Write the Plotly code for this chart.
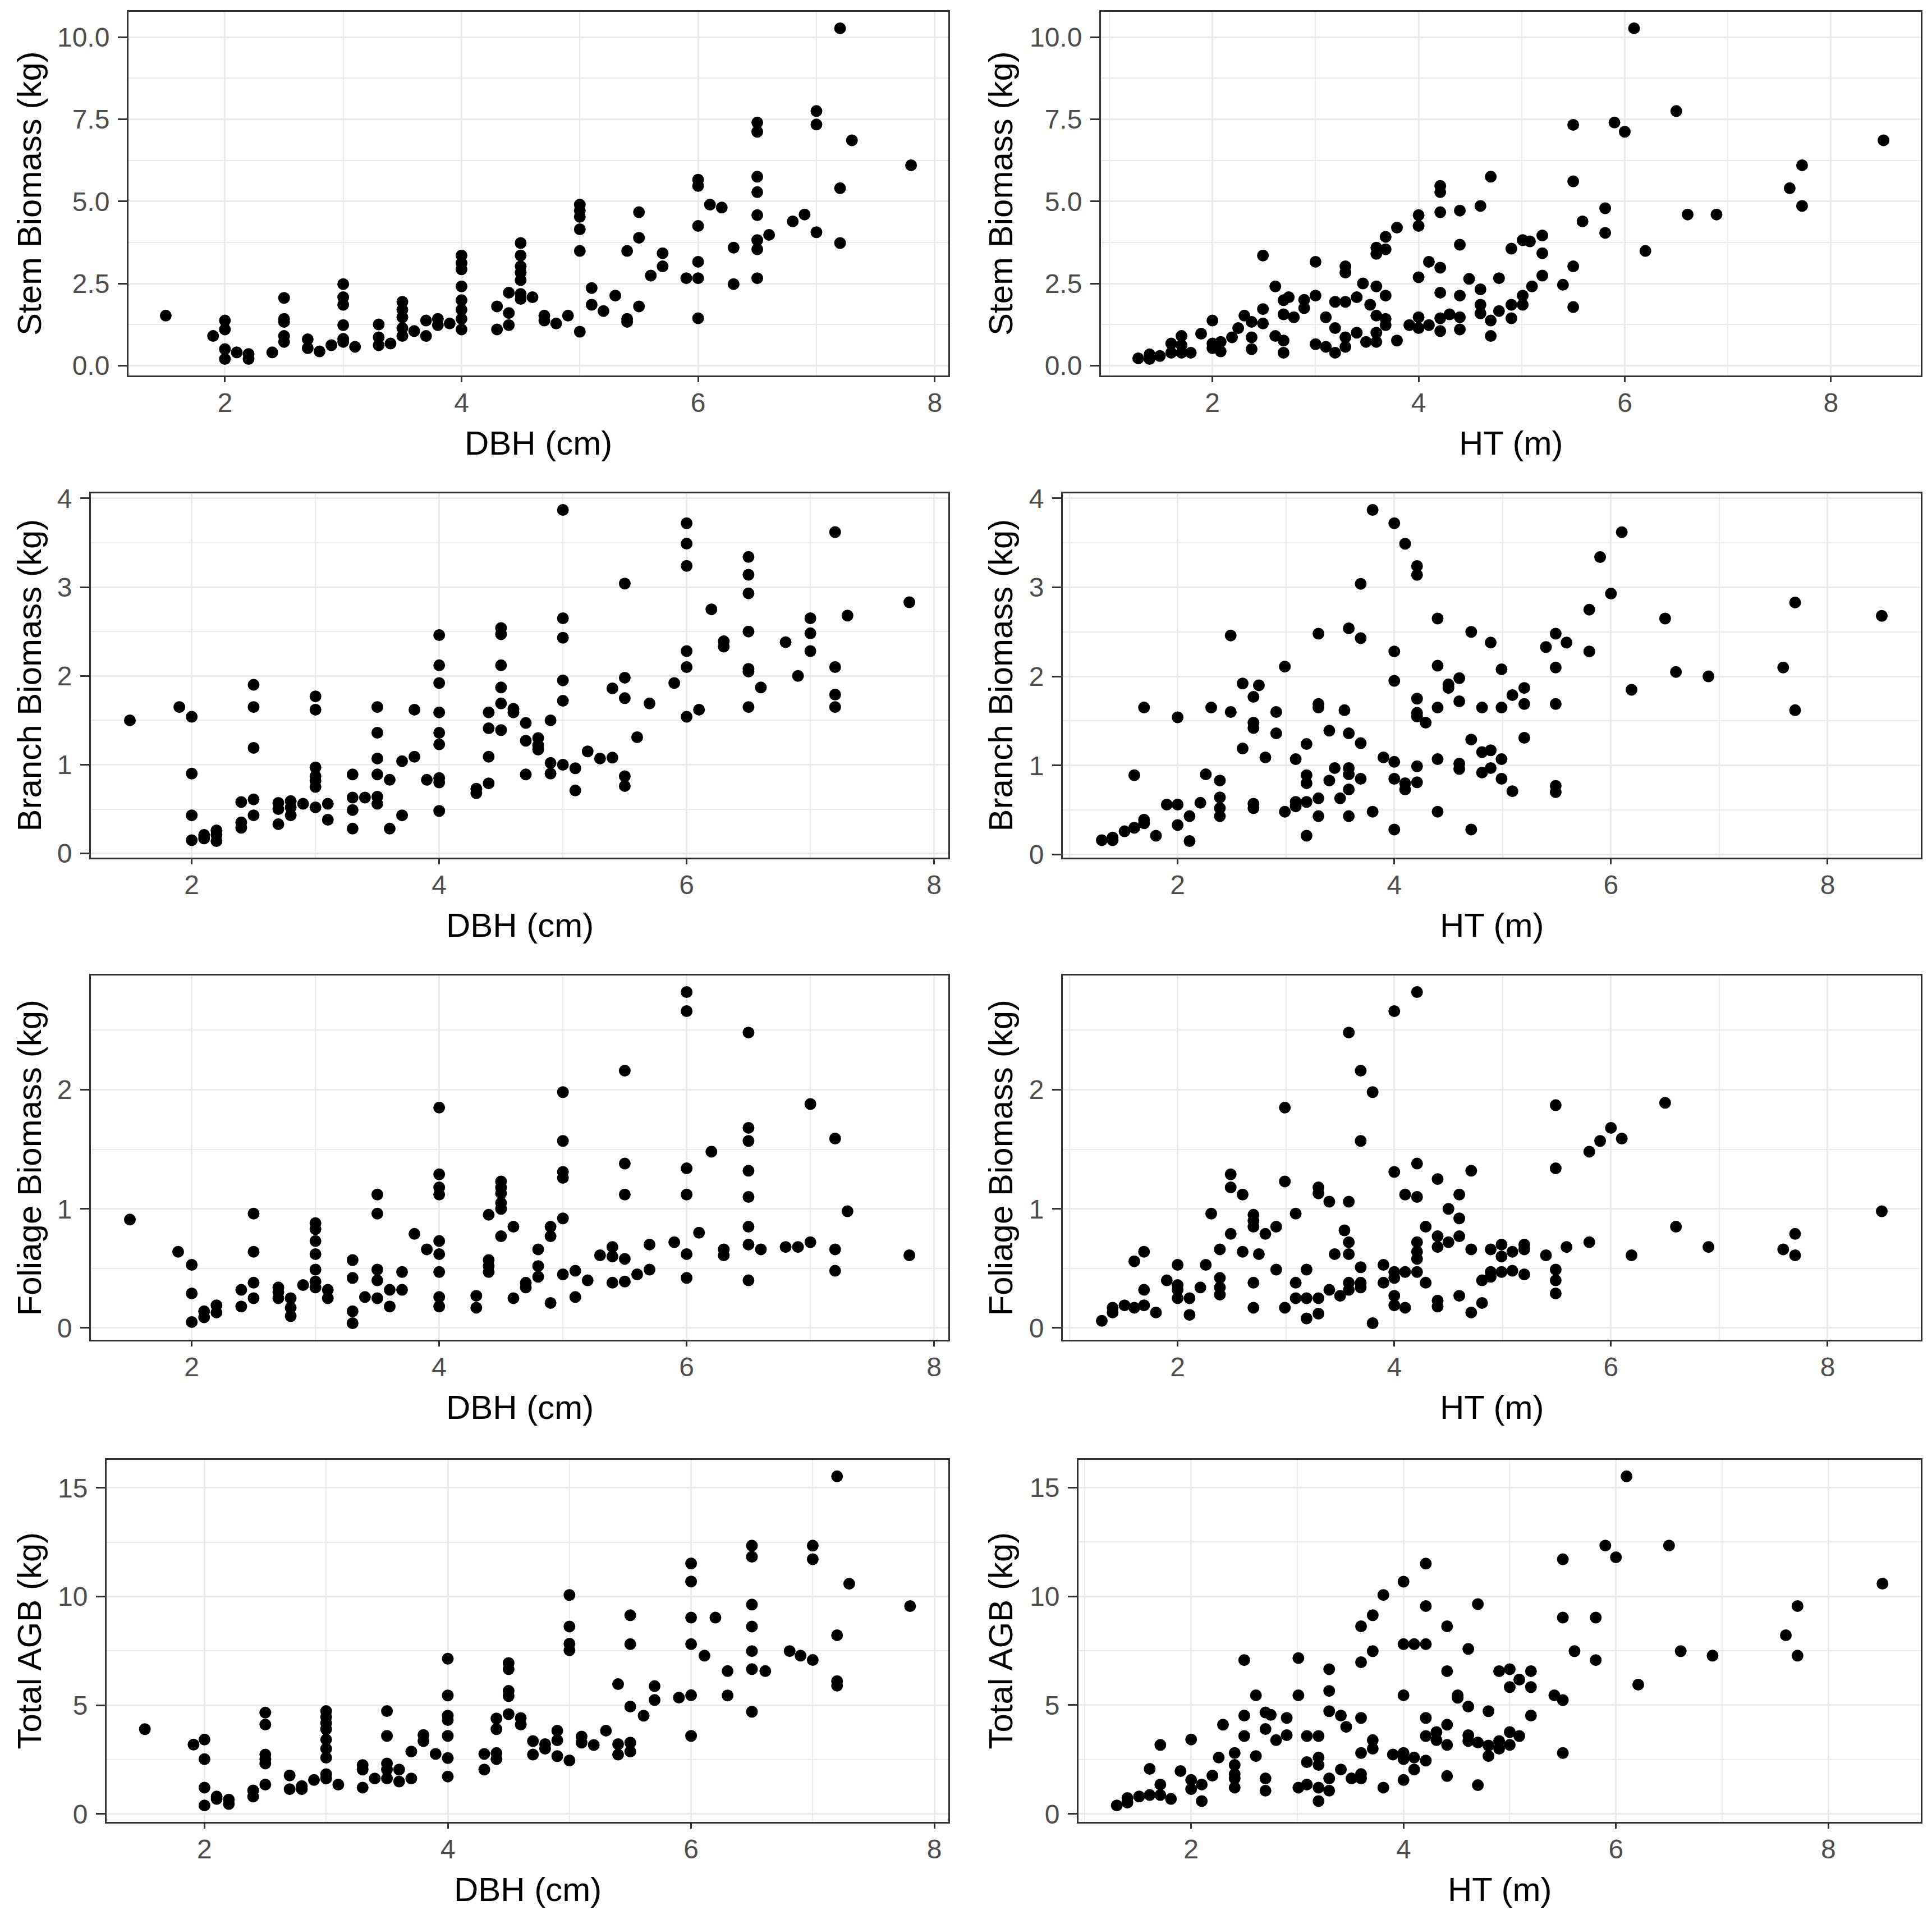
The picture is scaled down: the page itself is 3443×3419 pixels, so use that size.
import numpy as np
import plotly.graph_objects as go
from plotly.subplots import make_subplots

# points, (x, y) per panel
stem_dbh = [(1.5, 1.52), (1.9, 0.9), (2.0, 1.37), (2.0, 1.1), (2.0, 0.5), (2.0, 0.2), (2.1, 0.4), (2.2, 0.35),
            (2.2, 0.2), (2.4, 0.4), (2.5, 2.06), (2.5, 1.42), (2.5, 1.33), (2.5, 0.9), (2.5, 0.72), (2.7, 0.8),
            (2.7, 0.53), (2.8, 0.43), (2.9, 0.62), (3.0, 2.48), (3.0, 2.08), (3.0, 1.85), (3.0, 1.23), (3.0, 0.81),
            (3.0, 0.72), (3.1, 0.57), (3.3, 1.25), (3.3, 0.86), (3.3, 0.62), (3.4, 0.67), (3.5, 1.94), (3.5, 1.7),
            (3.5, 1.47), (3.5, 1.14), (3.5, 0.9), (3.6, 1.05), (3.7, 1.37), (3.7, 0.9), (3.8, 1.42), (3.8, 1.23),
            (3.9, 1.28), (4.0, 3.35), (4.0, 3.12), (4.0, 2.93), (4.0, 2.41), (4.0, 1.99), (4.0, 1.7), (4.0, 1.42),
            (4.0, 1.1), (4.3, 1.8), (4.3, 1.1), (4.4, 2.22), (4.4, 1.6), (4.4, 1.23), (4.5, 3.73), (4.5, 3.35),
            (4.5, 3.02), (4.5, 2.83), (4.5, 2.6), (4.5, 2.18), (4.5, 2.03), (4.6, 2.08), (4.7, 1.52), (4.7, 1.37),
            (4.8, 1.28), (4.9, 1.52), (5.0, 4.9), (5.0, 4.72), (5.0, 4.53), (5.0, 4.15), (5.0, 3.49), (5.0, 1.03),
            (5.1, 2.36), (5.1, 1.85), (5.2, 1.66), (5.3, 2.13), (5.4, 3.49), (5.4, 1.42), (5.4, 1.33), (5.5, 4.67),
            (5.5, 3.89), (5.5, 1.8), (5.6, 2.74), (5.7, 3.42), (5.7, 3.02), (5.9, 2.66), (6.0, 5.66), (6.0, 5.47),
            (6.0, 4.25), (6.0, 3.16), (6.0, 2.66), (6.0, 1.44), (6.1, 4.9), (6.2, 4.81), (6.3, 3.59), (6.3, 2.48),
            (6.5, 7.4), (6.5, 7.12), (6.5, 5.75), (6.5, 5.28), (6.5, 4.58), (6.5, 3.82), (6.5, 3.54), (6.5, 2.66),
            (6.6, 3.98), (6.8, 4.39), (6.9, 4.6), (7.0, 7.75), (7.0, 7.34), (7.0, 4.06), (7.2, 10.27), (7.2, 5.4),
            (7.2, 3.73), (7.3, 6.86), (7.8, 6.1)]

stem_ht = [(1.28, 0.22), (1.39, 0.34), (1.39, 0.2), (1.49, 0.29), (1.6, 0.67), (1.6, 0.39), (1.7, 0.9), (1.7, 0.62),
           (1.7, 0.39), (1.79, 0.39), (1.89, 0.97), (2.0, 1.37), (2.0, 0.67), (2.0, 0.53), (2.08, 0.72), (2.08, 0.43),
           (2.19, 0.86), (2.25, 1.14), (2.31, 1.52), (2.38, 1.33), (2.38, 0.86), (2.38, 0.5), (2.49, 3.35),
           (2.49, 1.72), (2.49, 1.28), (2.61, 2.41), (2.61, 0.9), (2.69, 1.99), (2.69, 1.56), (2.69, 0.76),
           (2.69, 0.39), (2.74, 2.08), (2.79, 1.47), (2.89, 2.0), (2.89, 1.75), (3.0, 3.16), (3.0, 2.13), (3.0, 0.65),
           (3.1, 1.47), (3.1, 0.57), (3.19, 1.94), (3.19, 1.14), (3.19, 0.39), (3.29, 3.02), (3.29, 2.83),
           (3.29, 1.94), (3.29, 0.86), (3.29, 0.57), (3.4, 2.08), (3.4, 1.0), (3.46, 2.5), (3.49, 0.72), (3.53, 1.85),
           (3.59, 3.59), (3.59, 3.4), (3.59, 2.41), (3.59, 1.52), (3.59, 1.0), (3.59, 0.72), (3.68, 3.54),
           (3.68, 3.92), (3.68, 2.13), (3.68, 1.42), (3.68, 1.23), (3.79, 4.2), (3.79, 0.76), (3.91, 1.23),
           (4.0, 4.58), (4.0, 4.25), (4.0, 2.69), (4.0, 1.47), (4.0, 1.14), (4.1, 3.16), (4.1, 1.23), (4.21, 5.47),
           (4.21, 5.28), (4.21, 4.67), (4.21, 2.98), (4.21, 2.22), (4.21, 1.44), (4.21, 1.05), (4.3, 1.56),
           (4.4, 4.72), (4.4, 3.68), (4.4, 2.13), (4.4, 1.47), (4.4, 1.1), (4.49, 2.64), (4.6, 4.86), (4.6, 2.32),
           (4.6, 1.85), (4.6, 1.59), (4.7, 5.75), (4.7, 1.37), (4.7, 0.9), (4.78, 2.66), (4.78, 1.66), (4.9, 3.56),
           (4.9, 1.85), (4.9, 1.44), (5.01, 3.82), (5.01, 2.13), (5.01, 1.85), (5.08, 3.78), (5.1, 2.41), (5.2, 3.96),
           (5.2, 3.42), (5.2, 2.74), (5.4, 2.46), (5.5, 7.33), (5.5, 5.61), (5.5, 3.02), (5.5, 1.78), (5.59, 4.39),
           (5.81, 4.79), (5.81, 4.04), (5.9, 7.4), (6.0, 7.12), (6.09, 10.27), (6.2, 3.49), (6.5, 7.75), (6.61, 4.6),
           (6.89, 4.6), (7.6, 5.4), (7.72, 6.1), (7.72, 4.86), (8.51, 6.86)]

branch_dbh = [(1.5, 1.5), (1.9, 1.65), (2.0, 1.54), (2.0, 0.9), (2.0, 0.43), (2.0, 0.15), (2.1, 0.17), (2.1, 0.21),
              (2.2, 0.14), (2.2, 0.21), (2.2, 0.26), (2.4, 0.29), (2.4, 0.35), (2.4, 0.58), (2.5, 1.9), (2.5, 1.65),
              (2.5, 1.19), (2.5, 0.61), (2.5, 0.43), (2.7, 0.33), (2.7, 0.57), (2.7, 0.5), (2.8, 0.59), (2.8, 0.43),
              (2.8, 0.52), (2.9, 0.56), (3.0, 1.77), (3.0, 1.62), (3.0, 0.97), (3.0, 0.87), (3.0, 0.82), (3.0, 0.75),
              (3.0, 0.52), (3.1, 0.56), (3.1, 0.38), (3.3, 0.89), (3.3, 0.63), (3.3, 0.49), (3.3, 0.28), (3.4, 0.63),
              (3.5, 1.65), (3.5, 1.36), (3.5, 1.07), (3.5, 0.89), (3.5, 0.64), (3.5, 0.56), (3.6, 0.83), (3.6, 0.28),
              (3.7, 1.04), (3.7, 0.43), (3.8, 1.62), (3.8, 1.09), (3.9, 0.83), (4.0, 2.46), (4.0, 2.12), (4.0, 1.92),
              (4.0, 1.59), (4.0, 1.36), (4.0, 1.23), (4.0, 0.85), (4.0, 0.8), (4.0, 0.48), (4.3, 0.73), (4.3, 0.68),
              (4.4, 1.59), (4.4, 1.41), (4.4, 1.09), (4.4, 0.79), (4.5, 2.54), (4.5, 2.47), (4.5, 2.12), (4.5, 1.87),
              (4.5, 1.69), (4.5, 1.39), (4.6, 1.63), (4.6, 1.59), (4.7, 1.47), (4.7, 1.27), (4.7, 0.89), (4.8, 1.3),
              (4.8, 1.22), (4.8, 1.17), (4.9, 1.5), (4.9, 1.02), (4.9, 0.9), (5.0, 3.87), (5.0, 2.65), (5.0, 2.43),
              (5.0, 1.95), (5.0, 1.72), (5.0, 1.0), (5.1, 0.96), (5.1, 0.71), (5.2, 1.15), (5.3, 1.07), (5.4, 1.86),
              (5.4, 1.08), (5.5, 3.04), (5.5, 1.98), (5.5, 1.75), (5.5, 0.87), (5.5, 0.76), (5.6, 1.31), (5.7, 1.69),
              (5.9, 1.92), (6.0, 3.72), (6.0, 3.49), (6.0, 3.24), (6.0, 2.28), (6.0, 2.1), (6.0, 1.54), (6.1, 1.62),
              (6.2, 2.75), (6.3, 2.39), (6.3, 2.33), (6.5, 3.34), (6.5, 3.14), (6.5, 2.93), (6.5, 2.5), (6.5, 2.08),
              (6.5, 2.05), (6.5, 1.65), (6.6, 1.87), (6.8, 2.38), (6.9, 2.0), (7.0, 2.65), (7.0, 2.48), (7.0, 2.28),
              (7.2, 3.62), (7.2, 2.1), (7.2, 1.79), (7.2, 1.65), (7.3, 2.68), (7.8, 2.83)]

branch_ht = [(1.3, 0.16), (1.4, 0.16), (1.4, 0.19), (1.51, 0.26), (1.6, 0.3), (1.6, 0.89), (1.69, 0.35), (1.69, 0.39),
             (1.69, 1.65), (1.8, 0.21), (1.9, 0.56), (2.0, 0.56), (2.0, 0.33), (2.0, 1.54), (2.11, 0.43), (2.11, 0.15),
             (2.21, 0.58), (2.26, 0.9), (2.31, 1.65), (2.39, 0.83), (2.39, 0.64), (2.39, 0.52), (2.39, 0.43),
             (2.49, 2.46), (2.49, 1.6), (2.6, 1.92), (2.6, 1.19), (2.7, 1.77), (2.7, 1.48), (2.7, 1.42), (2.7, 0.57),
             (2.7, 0.52), (2.75, 1.9), (2.81, 1.09), (2.91, 1.6), (2.91, 1.36), (2.99, 2.11), (2.99, 0.48),
             (3.09, 1.07), (3.09, 0.59), (3.09, 0.54), (3.19, 1.24), (3.19, 0.89), (3.19, 0.8), (3.19, 0.59),
             (3.19, 0.21), (3.3, 2.48), (3.3, 1.69), (3.3, 1.65), (3.3, 0.63), (3.3, 0.43), (3.4, 1.39), (3.4, 0.83),
             (3.45, 0.97), (3.5, 0.63), (3.54, 1.62), (3.58, 2.54), (3.58, 1.36), (3.58, 0.97), (3.58, 0.9),
             (3.58, 0.73), (3.58, 0.43), (3.69, 3.04), (3.69, 2.43), (3.69, 1.25), (3.69, 0.85), (3.8, 3.87),
             (3.8, 0.48), (3.9, 1.09), (4.0, 3.72), (4.0, 2.28), (4.0, 1.95), (4.0, 1.04), (4.0, 0.85), (4.0, 0.28),
             (4.1, 3.49), (4.1, 0.8), (4.1, 0.73), (4.21, 3.24), (4.21, 3.14), (4.21, 1.75), (4.21, 1.59),
             (4.21, 1.55), (4.21, 0.99), (4.21, 0.81), (4.29, 1.48), (4.4, 2.65), (4.4, 2.12), (4.4, 1.65),
             (4.4, 1.07), (4.4, 0.48), (4.5, 1.91), (4.5, 1.87), (4.6, 1.98), (4.6, 1.72), (4.6, 1.02), (4.6, 0.96),
             (4.71, 2.5), (4.71, 1.29), (4.71, 0.28), (4.81, 1.65), (4.81, 1.15), (4.81, 0.92), (4.89, 2.38),
             (4.89, 1.17), (4.89, 0.97), (4.99, 2.08), (4.99, 1.65), (4.99, 1.07), (4.99, 0.85), (5.09, 1.79),
             (5.09, 0.71), (5.2, 1.87), (5.2, 1.69), (5.2, 1.31), (5.4, 2.33), (5.49, 2.48), (5.49, 2.1), (5.49, 1.69),
             (5.49, 0.77), (5.49, 0.7), (5.59, 2.38), (5.8, 2.75), (5.8, 2.28), (5.9, 3.34), (6.0, 2.93), (6.1, 3.62),
             (6.19, 1.85), (6.5, 2.65), (6.6, 2.05), (6.9, 2.0), (7.59, 2.1), (7.7, 2.83), (7.7, 1.62), (8.5, 2.68)]

foliage_dbh = [(1.5, 0.91), (1.89, 0.64), (2.0, 0.53), (2.0, 0.29), (2.0, 0.05), (2.1, 0.09), (2.1, 0.14), (2.2, 0.13),
               (2.2, 0.19), (2.4, 0.18), (2.4, 0.32), (2.5, 0.96), (2.5, 0.64), (2.5, 0.38), (2.5, 0.25), (2.7, 0.34),
               (2.7, 0.3), (2.7, 0.25), (2.8, 0.25), (2.8, 0.17), (2.8, 0.1), (2.9, 0.36), (3.0, 0.88), (3.0, 0.83),
               (3.0, 0.73), (3.0, 0.62), (3.0, 0.49), (3.0, 0.39), (3.0, 0.34), (3.1, 0.32), (3.1, 0.25), (3.3, 0.57),
               (3.3, 0.42), (3.3, 0.14), (3.3, 0.04), (3.4, 0.26), (3.5, 1.12), (3.5, 0.96), (3.5, 0.49), (3.5, 0.4),
               (3.5, 0.25), (3.6, 0.32), (3.6, 0.18), (3.7, 0.47), (3.7, 0.32), (3.8, 0.79), (3.9, 0.66), (4.0, 1.85),
               (4.0, 1.29), (4.0, 1.18), (4.0, 1.12), (4.0, 0.73), (4.0, 0.62), (4.0, 0.47), (4.0, 0.26), (4.0, 0.18),
               (4.3, 0.27), (4.3, 0.17), (4.4, 0.95), (4.4, 0.57), (4.4, 0.52), (4.4, 0.47), (4.5, 1.23), (4.5, 1.18),
               (4.5, 1.13), (4.5, 1.05), (4.5, 1.0), (4.5, 0.77), (4.6, 0.85), (4.6, 0.25), (4.7, 0.38), (4.7, 0.34),
               (4.8, 0.66), (4.8, 0.52), (4.8, 0.43), (4.9, 0.85), (4.9, 0.77), (4.9, 0.21), (5.0, 1.98), (5.0, 1.57),
               (5.0, 1.31), (5.0, 1.26), (5.0, 0.92), (5.0, 0.45), (5.1, 0.48), (5.1, 0.26), (5.2, 0.4), (5.3, 0.61),
               (5.4, 0.68), (5.4, 0.6), (5.4, 0.38), (5.5, 2.16), (5.5, 1.38), (5.5, 1.12), (5.5, 0.58), (5.5, 0.39),
               (5.6, 0.45), (5.7, 0.7), (5.7, 0.49), (5.9, 0.72), (6.0, 2.82), (6.0, 2.66), (6.0, 1.34), (6.0, 1.12),
               (6.0, 0.62), (6.0, 0.42), (6.1, 0.8), (6.2, 1.48), (6.3, 0.66), (6.3, 0.61), (6.5, 2.48), (6.5, 1.68),
               (6.5, 1.57), (6.5, 1.32), (6.5, 1.1), (6.5, 0.85), (6.5, 0.7), (6.5, 0.4), (6.6, 0.66), (6.8, 0.68),
               (6.9, 0.68), (7.0, 1.88), (7.0, 0.72), (7.2, 1.59), (7.2, 0.66), (7.2, 0.48), (7.3, 0.98), (7.8, 0.61)]

foliage_ht = [(1.3, 0.06), (1.4, 0.13), (1.4, 0.17), (1.51, 0.19), (1.6, 0.56), (1.6, 0.17), (1.69, 0.64), (1.69, 0.32),
              (1.69, 0.19), (1.8, 0.13), (1.9, 0.4), (2.0, 0.53), (2.0, 0.36), (2.0, 0.32), (2.0, 0.25), (2.11, 0.25),
              (2.11, 0.11), (2.21, 0.34), (2.26, 0.53), (2.31, 0.96), (2.39, 0.66), (2.39, 0.42), (2.39, 0.34),
              (2.39, 0.28), (2.49, 1.29), (2.49, 1.18), (2.49, 0.79), (2.6, 1.12), (2.6, 0.64), (2.7, 0.95), (2.7, 0.9),
              (2.7, 0.85), (2.7, 0.38), (2.7, 0.17), (2.75, 0.62), (2.81, 0.79), (2.91, 0.85), (2.91, 0.49),
              (2.99, 1.85), (2.99, 1.23), (2.99, 0.17), (3.09, 0.96), (3.09, 0.38), (3.09, 0.25), (3.19, 0.49),
              (3.19, 0.25), (3.19, 0.08), (3.3, 1.18), (3.3, 1.13), (3.3, 0.25), (3.3, 0.12), (3.4, 1.06), (3.4, 0.32),
              (3.45, 0.62), (3.5, 0.27), (3.54, 0.82), (3.58, 2.48), (3.58, 1.06), (3.58, 0.72), (3.58, 0.62),
              (3.58, 0.38), (3.58, 0.32), (3.69, 2.16), (3.69, 1.57), (3.69, 0.51), (3.69, 0.38), (3.69, 0.34),
              (3.8, 1.98), (3.8, 0.04), (3.9, 0.53), (3.9, 0.38), (4.0, 2.66), (4.0, 1.31), (4.0, 0.47), (4.0, 0.42),
              (4.0, 0.27), (4.0, 0.19), (4.1, 1.12), (4.1, 0.47), (4.1, 0.17), (4.21, 2.82), (4.21, 1.38), (4.21, 1.1),
              (4.21, 0.72), (4.21, 0.64), (4.21, 0.58), (4.21, 0.47), (4.29, 0.85), (4.29, 0.38), (4.4, 1.25),
              (4.4, 0.77), (4.4, 0.68), (4.4, 0.23), (4.4, 0.18), (4.5, 1.0), (4.5, 0.72), (4.6, 1.12), (4.6, 0.92),
              (4.6, 0.77), (4.6, 0.27), (4.71, 1.32), (4.71, 0.66), (4.71, 0.13), (4.81, 0.4), (4.81, 0.21),
              (4.89, 0.66), (4.89, 0.47), (4.89, 0.43), (4.99, 0.7), (4.99, 0.6), (4.99, 0.47), (5.09, 0.64),
              (5.09, 0.48), (5.2, 0.7), (5.2, 0.66), (5.2, 0.45), (5.4, 0.61), (5.49, 1.87), (5.49, 1.34), (5.49, 0.49),
              (5.49, 0.4), (5.49, 0.29), (5.59, 0.68), (5.8, 0.72), (5.8, 1.48), (5.9, 1.57), (6.0, 1.68), (6.1, 1.59),
              (6.19, 0.61), (6.5, 1.89), (6.6, 0.85), (6.9, 0.68), (7.59, 0.66), (7.7, 0.79), (7.7, 0.61), (8.5, 0.98)]

total_dbh = [(1.51, 3.9), (1.91, 3.19), (2.0, 3.42), (2.0, 2.52), (2.0, 1.21), (2.0, 0.39), (2.1, 0.69), (2.1, 0.8),
             (2.2, 0.66), (2.2, 0.46), (2.4, 1.08), (2.4, 0.8), (2.5, 4.66), (2.5, 4.11), (2.5, 2.73), (2.5, 2.52),
             (2.5, 2.32), (2.5, 1.35), (2.7, 1.77), (2.7, 1.14), (2.8, 1.14), (2.8, 1.28), (2.9, 1.56), (3.0, 4.73),
             (3.0, 4.46), (3.0, 4.18), (3.0, 3.9), (3.0, 3.42), (3.0, 3.0), (3.0, 2.59), (3.0, 1.83), (3.0, 1.63),
             (3.1, 1.35), (3.3, 2.25), (3.3, 2.04), (3.3, 1.21), (3.4, 1.63), (3.5, 4.73), (3.5, 3.59), (3.5, 2.32),
             (3.5, 2.04), (3.5, 1.63), (3.6, 2.04), (3.6, 1.49), (3.7, 2.87), (3.7, 1.63), (3.8, 3.63), (3.8, 3.35),
             (3.9, 2.76), (4.0, 7.14), (4.0, 5.45), (4.0, 4.52), (4.0, 4.32), (4.0, 3.59), (4.0, 2.57), (4.0, 1.72),
             (4.3, 2.04), (4.3, 2.76), (4.4, 4.39), (4.4, 3.9), (4.4, 2.8), (4.4, 2.52), (4.5, 6.94), (4.5, 6.66),
             (4.5, 5.66), (4.5, 5.42), (4.5, 4.59), (4.6, 4.41), (4.6, 4.11), (4.7, 3.35), (4.7, 2.73), (4.8, 3.0),
             (4.8, 3.21), (4.9, 3.83), (4.9, 3.39), (4.9, 2.66), (5.0, 10.07), (5.0, 8.62), (5.0, 7.83), (5.0, 7.53),
             (5.0, 2.46), (5.1, 3.56), (5.1, 3.28), (5.2, 3.17), (5.3, 3.83), (5.4, 5.97), (5.4, 3.21), (5.4, 2.73),
             (5.5, 9.14), (5.5, 7.81), (5.5, 4.94), (5.5, 3.28), (5.5, 2.87), (5.61, 4.52), (5.7, 5.88), (5.7, 5.24),
             (5.9, 5.35), (6.0, 11.52), (6.0, 10.69), (6.0, 9.03), (6.0, 7.81), (6.0, 5.46), (6.0, 3.59), (6.11, 7.28),
             (6.2, 9.03), (6.3, 6.57), (6.3, 5.45), (6.5, 12.34), (6.5, 11.83), (6.5, 9.63), (6.5, 8.62), (6.5, 7.49),
             (6.5, 6.66), (6.5, 4.7), (6.61, 6.57), (6.81, 7.49), (6.9, 7.28), (7.0, 12.34), (7.0, 11.72), (7.0, 7.08),
             (7.2, 15.53), (7.2, 8.22), (7.2, 6.11), (7.2, 5.9), (7.3, 10.59), (7.8, 9.56)]

total_ht = [(1.3, 0.39), (1.4, 0.52), (1.4, 0.73), (1.51, 0.8), (1.61, 0.87), (1.61, 2.07), (1.71, 3.17), (1.71, 1.35),
            (1.71, 0.87), (1.81, 0.69), (1.9, 1.97), (2.0, 3.42), (2.0, 1.56), (2.0, 1.14), (2.1, 1.35), (2.1, 0.59),
            (2.2, 1.76), (2.26, 2.59), (2.3, 4.1), (2.41, 2.8), (2.41, 2.25), (2.41, 1.83), (2.41, 1.63), (2.41, 1.21),
            (2.5, 7.07), (2.5, 4.52), (2.5, 3.58), (2.61, 5.45), (2.61, 2.66), (2.7, 4.66), (2.7, 3.9), (2.7, 1.63),
            (2.7, 1.07), (2.75, 4.55), (2.8, 3.39), (2.9, 4.41), (2.9, 3.62), (3.01, 7.16), (3.01, 5.45), (3.01, 1.21),
            (3.09, 2.38), (3.09, 1.35), (3.09, 3.58), (3.2, 3.58), (3.2, 2.59), (3.2, 2.25), (3.2, 1.21), (3.2, 0.59),
            (3.3, 6.65), (3.3, 5.65), (3.3, 4.72), (3.3, 1.63), (3.3, 1.07), (3.41, 4.52), (3.41, 2.04), (3.46, 4.0),
            (3.51, 1.63), (3.6, 8.62), (3.6, 6.97), (3.6, 4.41), (3.6, 2.8), (3.6, 1.83), (3.6, 1.63), (3.71, 9.13),
            (3.71, 7.48), (3.71, 3.39), (3.71, 3.0), (3.81, 10.06), (3.81, 1.21), (3.9, 2.73), (4.0, 10.67),
            (4.0, 7.8), (4.0, 5.45), (4.0, 2.8), (4.0, 2.52), (4.0, 1.56), (4.1, 7.8), (4.1, 2.59), (4.1, 2.04),
            (4.21, 11.5), (4.21, 9.55), (4.21, 7.8), (4.21, 4.41), (4.21, 3.58), (4.21, 2.45), (4.31, 3.76),
            (4.31, 3.39), (4.41, 8.62), (4.41, 6.56), (4.41, 4.1), (4.41, 3.17), (4.41, 1.74), (4.51, 5.45),
            (4.51, 5.34), (4.61, 7.58), (4.61, 4.93), (4.61, 3.62), (4.61, 3.35), (4.7, 9.64), (4.7, 3.28),
            (4.7, 1.32), (4.8, 4.72), (4.8, 2.66), (4.8, 3.14), (4.9, 6.56), (4.9, 3.35), (4.9, 3.0), (5.0, 6.65),
            (5.0, 5.83), (5.0, 3.76), (5.0, 3.17), (5.09, 6.17), (5.09, 3.58), (5.2, 6.56), (5.2, 5.83), (5.2, 4.52),
            (5.42, 5.45), (5.5, 11.7), (5.5, 9.02), (5.5, 5.23), (5.5, 2.8), (5.61, 7.48), (5.81, 9.02), (5.81, 7.07),
            (5.9, 12.33), (6.0, 11.79), (6.1, 15.51), (6.21, 5.94), (6.5, 12.33), (6.61, 7.48), (6.91, 7.27),
            (7.6, 8.21), (7.71, 9.55), (7.71, 7.27), (8.51, 10.58)]

# panel order: row by row, DBH on the left, HT on the right
panels = [stem_dbh, stem_ht, branch_dbh, branch_ht, foliage_dbh, foliage_ht, total_dbh, total_ht]
y_titles = ["Stem Biomass (kg)", "Branch Biomass (kg)", "Foliage Biomass (kg)", "Total AGB (kg)"]
x_titles = ["DBH (cm)", "HT (m)"]
y_dticks = [2.5, 1, 1, 5]
y_formats = [".1f", "d", "d", "d"]

W, H = 3443, 3419
# plot area boxes in pixels: left, right, top, bottom
boxes = [(229, 1690, 21, 669), (1962, 3423, 21, 669),
         (162, 1690, 879, 1528), (1894, 3423, 879, 1528),
         (162, 1690, 1738, 2387), (1894, 3423, 1738, 2387),
         (190, 1690, 2601, 3246), (1922, 3423, 2601, 3246)]
ytitle_x = [52, 1783]

FONT = "Liberation Sans, Arial, sans-serif"
GRID = "#EBEBEB"
BORDER = "#333333"


def padded(vals):
    lo, hi = min(vals), max(vals)
    pad = (hi - lo) * 0.05
    return [lo - pad, hi + pad]


fig = make_subplots(rows=4, cols=2)

for i, pts in enumerate(panels):
    row, col = i // 2 + 1, i % 2 + 1
    xs = [p[0] for p in pts]
    ys = [p[1] for p in pts]
    fig.add_trace(go.Scatter(x=xs, y=ys, mode="markers",
                             marker=dict(color="black", size=21, line=dict(width=0)),
                             showlegend=False), row=row, col=col)

    left, right, top, bottom = boxes[i]
    xd = [left / W, right / W]
    yd = [1 - bottom / H, 1 - top / H]
    dt = y_dticks[row - 1]

    axis_common = dict(showline=True, mirror=True, linecolor=BORDER, linewidth=3,
                       showgrid=True, gridcolor=GRID, gridwidth=3, zeroline=False,
                       automargin=False, ticks="outside", tickwidth=3, tickcolor=BORDER,
                       tickfont=dict(family=FONT, size=48, color="#4D4D4D"))

    fig.update_xaxes(domain=xd, range=padded(xs), tick0=0, dtick=2, ticklen=9, ticklabelstandoff=-5,
                     minor=dict(dtick=1, showgrid=True, gridcolor=GRID, gridwidth=2),
                     row=row, col=col, **axis_common)
    fig.update_yaxes(domain=yd, range=padded(ys), tick0=0, dtick=dt, tickformat=y_formats[row - 1],
                     ticklen=16, ticklabelstandoff=5,
                     minor=dict(dtick=dt / 2, showgrid=True, gridcolor=GRID, gridwidth=2),
                     row=row, col=col, **axis_common)

    xref = "x" if i == 0 else "x%d" % (i + 1)
    yref = "y" if i == 0 else "y%d" % (i + 1)
    fig.add_annotation(text=x_titles[col - 1], xref=xref + " domain", yref=yref + " domain",
                       x=0.5, y=0, yshift=-120, xanchor="center", yanchor="middle",
                       showarrow=False, font=dict(family=FONT, size=60, color="black"))
    fig.add_annotation(text=y_titles[row - 1], xref="paper", yref=yref + " domain",
                       x=ytitle_x[col - 1] / W, y=0.5, xanchor="center", yanchor="middle",
                       textangle=-90, showarrow=False, font=dict(family=FONT, size=60, color="black"))

fig.update_layout(width=W, height=H, margin=dict(l=0, r=0, t=0, b=0, autoexpand=False),
                  paper_bgcolor="white", plot_bgcolor="white")

# pin the figure to the window origin, without page margins or scrolling
pin = ("document.body.style.margin='0';"
       "document.documentElement.style.overflow='hidden';"
       "var g=document.getElementById('{plot_id}');"
       "g.style.position='fixed';g.style.top='0';g.style.left='0';")
fig.write_html("out.html", config={"displayModeBar": False}, post_script=pin)
